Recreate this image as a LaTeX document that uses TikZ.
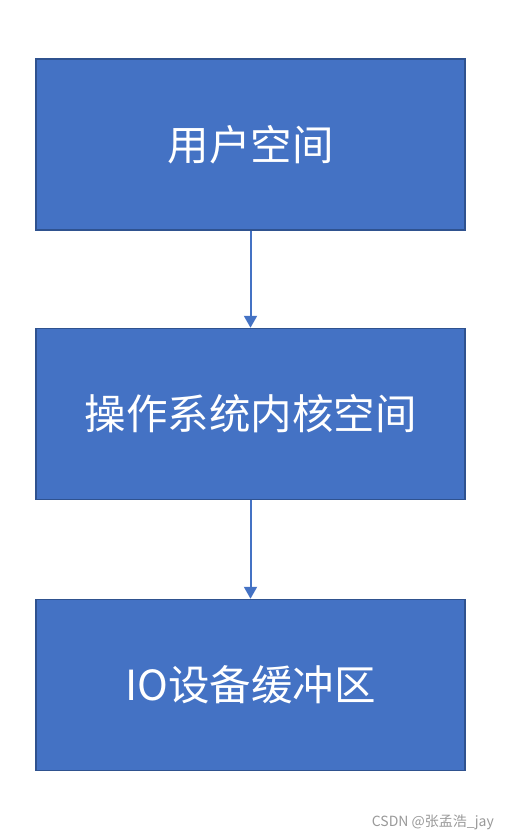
\documentclass[tikz,border=0pt]{standalone}
\usepackage{fontspec}
\newfontfamily\cjk{Noto Sans CJK SC}
\usetikzlibrary{arrows.meta}
\definecolor{boxfill}{HTML}{4472C4}
\definecolor{boxline}{HTML}{2F528F}
\begin{document}
\begin{tikzpicture}[x=1pt,y=-1pt,
  blk/.style={draw=boxline,fill=boxfill,line width=1.5pt,minimum width=429pt,minimum height=171pt,inner sep=0pt,text=white,font=\cjk\fontsize{41.5}{48}\selectfont},
  conn/.style={draw=boxfill,line width=2pt,-{Triangle[length=12pt,width=13pt]}}]
\useasboundingbox (0,0) rectangle (509,840);
\node[blk] (a) at (250.5,144.5) {用户空间};
\node[blk] (b) at (250.5,414) {操作系统内核空间};
\node[blk] (c) at (250.5,685) {IO设备缓冲区};
\draw[conn] (a) -- (b);
\draw[conn] (b) -- (c);
\node[font=\cjk\fontsize{14}{16}\selectfont,text=gray!80,anchor=east,inner sep=0pt] (w) at (494,822) {CSDN @张孟浩\_jay};
\end{tikzpicture}
\end{document}
